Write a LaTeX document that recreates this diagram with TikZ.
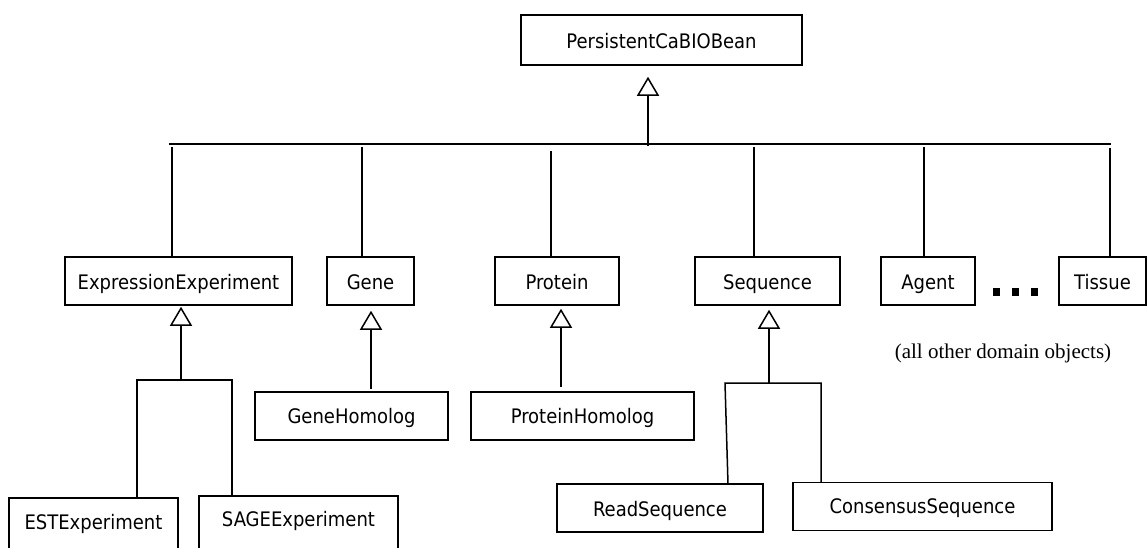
\documentclass[tikz,border=0pt]{standalone}
\usepackage{fontspec}
\setmainfont{DejaVu Sans Condensed}
\newfontfamily\notefont{Liberation Serif}
\usetikzlibrary{arrows.meta}
\begin{document}
\begin{tikzpicture}[x=1pt,y=-1pt,
  cls/.style={draw, line width=1.5pt, inner sep=0pt, minimum height=48pt,
    text height=17pt, text depth=0pt, font=\fontsize{20}{24}\selectfont},
  tall/.style={minimum height=60pt},
  link/.style={line width=1.5pt},
  gen/.style={link, -{Triangle[open, length=19pt, width=22pt, line width=1.5pt]}}]
\useasboundingbox (0,0) rectangle (1147,547);

% classes
\node[cls, minimum width=281pt, minimum height=50pt, text height=16pt] (root) at (661.5,40) {PersistentCaBIOBean};
\node[cls, minimum width=227pt] (expr) at (178.5,281) {ExpressionExperiment};
\node[cls, minimum width=87pt]  (gene) at (370.5,281) {Gene};
\node[cls, minimum width=124pt] (prot) at (557,281) {Protein};
\node[cls, minimum width=145pt] (seq)  at (767.5,281) {Sequence};
\node[cls, minimum width=94pt]  (agent) at (928,281) {Agent};
\node[cls, minimum width=87pt]  (tissue) at (1102.5,281) {Tissue};
\node[cls, minimum width=193pt, text height=15pt] (ghom) at (351.5,416) {GeneHomolog};
\node[cls, minimum width=223pt, text height=15pt] (phom) at (582.5,416) {ProteinHomolog};
\node[cls, tall, minimum width=169pt, text height=10pt, text depth=8pt] (est)  at (93.5,528) {ESTExperiment};
\node[cls, tall, minimum width=199pt, text height=9pt, text depth=9pt] (sage) at (298.5,526) {SAGEExperiment};
\node[cls, minimum width=206pt, text height=16pt] (read) at (660,508) {ReadSequence};
\node[cls, minimum width=259pt, text height=14pt] (cons) at (922.5,506.5) {ConsensusSequence};

% ellipsis between Agent and Tissue
\foreach \x in {993,1012,1031} \fill (\x,288) rectangle ++(7,8);
\node[font=\notefont\fontsize{21}{25}\selectfont] (note) at (1003,353) {(all other domain objects)};

% main inheritance bus
\coordinate (busL) at (169,144);
\coordinate (busR) at (1111,144);
\coordinate (rootfoot) at (648,146);
\draw[link] (busL) -- (busR);
\draw[gen, shorten >=11pt] (rootfoot) -- (rootfoot |- root.south);

\coordinate (dExpr) at (172,147);
\coordinate (dGene) at (362,147);
\coordinate (dProt) at (551,151);
\coordinate (dSeq) at (754,147);
\coordinate (dAgent) at (924,147);
\coordinate (dTissue) at (1110,148);
\draw[link] (dExpr) -- (dExpr |- expr.north);
\draw[link] (dGene) -- (dGene |- gene.north);
\draw[link] (dProt) -- (dProt |- prot.north);
\draw[link] (dSeq) -- (dSeq |- seq.north);
\draw[link] (dAgent) -- (dAgent |- agent.north);
\draw[link] (dTissue) -- (dTissue |- tissue.north);

% ExpressionExperiment subclasses
\coordinate (eBus) at (181,380);
\coordinate (eBusL) at (137,380);
\coordinate (eBusR) at (232,380);
\draw[gen, shorten >=1pt] (eBus) -- (eBus |- expr.south);
\draw[link] (est.north -| eBusL) -- (eBusL) -- (eBusR) -- (eBusR |- sage.north);

% Gene / Protein homologs
\coordinate (gUp) at (371,389);
\coordinate (pUp) at (561,387);
\draw[gen, shorten >=5pt] (gUp) -- (gUp |- gene.south);
\draw[gen, shorten >=3pt] (pUp) -- (pUp |- prot.south);

% Sequence subclasses
\coordinate (sBus) at (769,383);
\coordinate (sBusL) at (725,383);
\coordinate (sBusR) at (821,383);
\coordinate (sReadTop) at (728,484);
\draw[gen, shorten >=4pt] (sBus) -- (sBus |- seq.south);
\draw[link] (sReadTop) -- (sBusL) -- (sBusR) -- (sBusR |- cons.north);
\end{tikzpicture}
\end{document}
